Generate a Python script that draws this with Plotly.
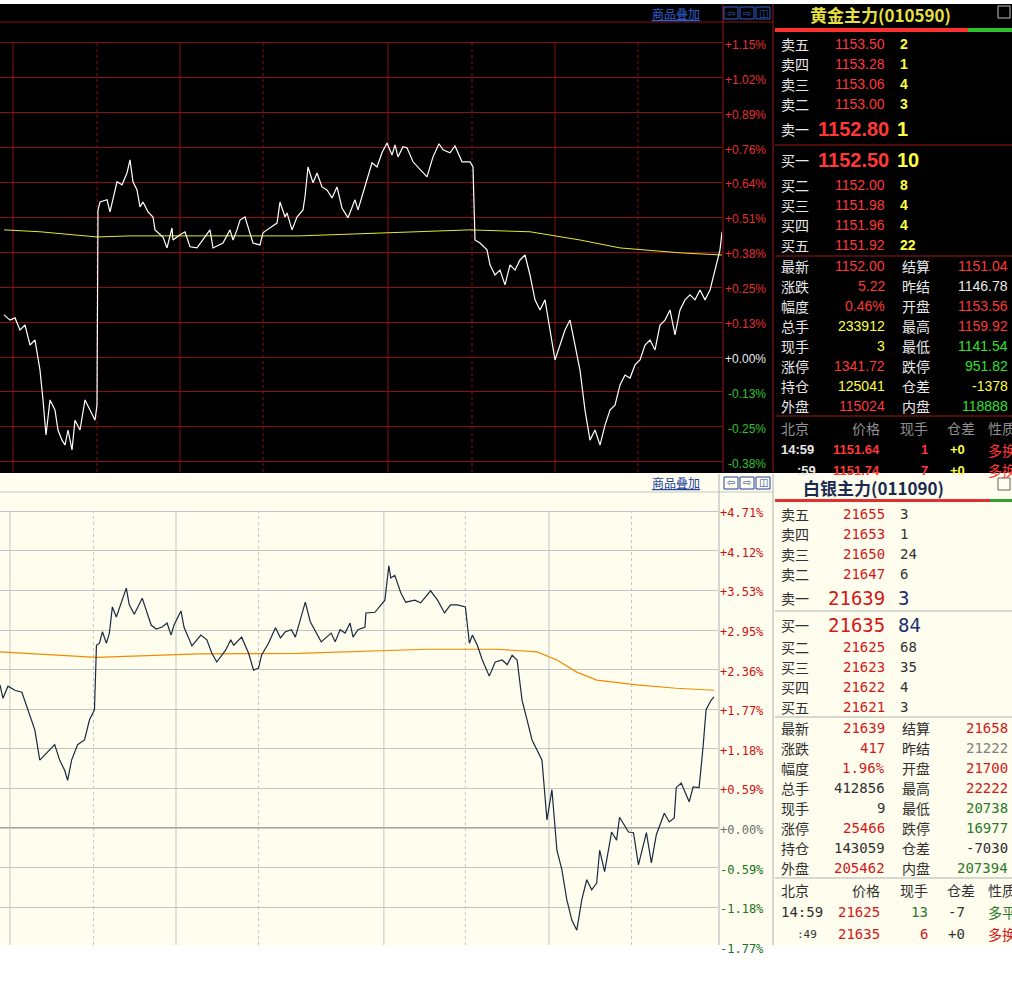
import plotly.graph_objects as go

W, H = 1012, 995

# ---------------- data ----------------
gold_t = [4,10,15,20,25,30,35,40,43,46,50,55,58,62,65,68,72,75,80,85,90,95,97,98,100,107,110,117,122,127,130,133,137,140,143,148,153,155,163,167,172,173,180,185,190,197,210,213,223,230,233,237,240,245,248,253,260,263,267,272,277,280,285,287,292,297,303,305,308,313,317,322,327,332,337,342,348,355,358,363,367,372,377,382,387,392,395,398,403,407,413,427,433,439,443,450,455,462,470,473,475,480,487,490,495,500,505,510,515,520,525,530,535,540,545,550,555,560,565,570,575,580,585,590,595,600,605,610,615,620,625,630,635,640,645,650,655,660,665,670,675,680,685,690,695,700,705,710,715,720,722]
gold_pct = [0.154,0.135,0.143,0.099,0.117,0.044,0.062,-0.048,-0.157,-0.285,-0.157,-0.194,-0.267,-0.304,-0.322,-0.267,-0.340,-0.231,-0.267,-0.157,-0.194,-0.231,-0.176,0.538,0.567,0.575,0.531,0.641,0.630,0.673,0.721,0.641,0.611,0.549,0.567,0.531,0.512,0.465,0.439,0.399,0.472,0.428,0.447,0.458,0.403,0.399,0.465,0.399,0.417,0.465,0.428,0.465,0.501,0.512,0.476,0.417,0.410,0.454,0.465,0.476,0.490,0.567,0.512,0.527,0.465,0.512,0.538,0.586,0.695,0.637,0.673,0.622,0.611,0.582,0.622,0.545,0.509,0.575,0.538,0.600,0.648,0.710,0.695,0.747,0.783,0.739,0.776,0.732,0.769,0.765,0.714,0.659,0.732,0.780,0.758,0.747,0.772,0.714,0.714,0.695,0.428,0.417,0.392,0.337,0.300,0.318,0.264,0.337,0.318,0.355,0.373,0.300,0.209,0.172,0.209,0.099,-0.011,0.044,0.099,0.135,0.044,-0.048,-0.194,-0.304,-0.267,-0.322,-0.249,-0.194,-0.176,-0.102,-0.066,-0.077,-0.029,-0.011,0.044,0.062,0.026,0.117,0.135,0.172,0.081,0.172,0.209,0.227,0.209,0.245,0.209,0.245,0.318,0.392,0.458]
gold_avg_t = [4,40,97,130,300,390,470,530,580,620,680,722]
gold_avg = [0.465,0.458,0.439,0.443,0.443,0.454,0.465,0.458,0.428,0.399,0.381,0.373]

silver_t = [0,3,8,15,22,27,35,40,45,50,55,60,65,68,72,78,85,90,95,97,100,103,107,110,113,117,127,130,135,143,152,157,163,168,172,175,182,185,193,202,208,213,218,227,232,235,243,250,255,260,263,270,277,282,287,293,297,307,312,323,333,337,342,347,352,355,360,367,368,377,387,391,393,397,403,408,417,423,433,440,447,453,460,468,472,475,480,485,492,498,505,510,515,520,525,530,535,540,545,550,555,560,565,570,575,580,585,590,595,600,603,608,615,620,623,632,637,642,650,655,660,668,673,678,680,685,693,697,703,707,710,715,718]
silver_pct = [2.13,1.93,2.11,2.05,2.02,1.80,1.46,1.01,1.09,1.16,1.24,1.01,0.86,0.71,1.01,1.24,1.31,1.61,1.76,2.72,2.75,2.92,2.75,2.90,3.29,3.14,3.57,3.32,3.18,3.42,3.02,2.96,2.99,3.05,2.87,3.02,3.23,2.99,2.71,2.87,2.80,2.60,2.47,2.65,2.80,2.72,2.84,2.60,2.35,2.38,2.57,2.75,2.98,2.83,2.92,2.95,2.84,3.36,3.07,2.77,2.90,2.77,2.95,2.90,3.05,2.84,2.95,2.99,3.20,3.21,3.39,3.90,3.72,3.76,3.50,3.36,3.39,3.35,3.53,3.39,3.20,3.32,3.32,3.29,2.75,2.87,2.72,2.50,2.26,2.47,2.50,2.43,2.57,2.50,1.90,1.61,1.31,1.16,1.01,0.12,0.57,-0.33,-0.62,-1.07,-1.37,-1.52,-1.07,-0.77,-0.92,-0.82,-0.33,-0.65,-0.06,-0.18,0.16,-0.06,-0.07,-0.55,-0.07,-0.52,-0.10,0.22,0.09,0.15,0.60,0.67,0.39,0.61,0.60,1.21,1.76,1.90,1.95]
silver_avg_t = [0,97,200,300,430,500,540,560,580,600,640,680,718]
silver_avg = [2.62,2.54,2.59,2.60,2.66,2.66,2.62,2.50,2.32,2.20,2.13,2.08,2.05]

gold_ticks = [1.15,1.02,0.89,0.76,0.64,0.51,0.38,0.25,0.13,0.00,-0.13,-0.25,-0.38]
gold_tick_step = 0.1277
silver_ticks = [4.71,4.12,3.53,2.95,2.36,1.77,1.18,0.59,0.00,-0.59,-1.18,-1.77]
silver_tick_step = 0.5893

gold_title = "黄金主力(010590)"
gold_ask = [("卖五","1153.50","2"),("卖四","1153.28","1"),("卖三","1153.06","4"),("卖二","1153.00","3")]
gold_ask1 = ("卖一","1152.80","1")
gold_bid1 = ("买一","1152.50","10")
gold_bid = [("买二","1152.00","8"),("买三","1151.98","4"),("买四","1151.96","4"),("买五","1151.92","22")]
gold_stats = [("最新","1152.00","r","结算","1151.04","r"),("涨跌","5.22","r","昨结","1146.78","w"),
              ("幅度","0.46%","r","开盘","1153.56","r"),("总手","233912","y","最高","1159.92","r"),
              ("现手","3","y","最低","1141.54","g"),("涨停","1341.72","r","跌停","951.82","g"),
              ("持仓","125041","y","仓差","-1378","y"),("外盘","115024","r","内盘","118888","g")]
gold_ticks_tbl = [("14:59","1151.64","1","+0","多换"),(":59","1151.74","7","+0","多换")]

silver_title = "白银主力(011090)"
silver_ask = [("卖五","21655","3"),("卖四","21653","1"),("卖三","21650","24"),("卖二","21647","6")]
silver_ask1 = ("卖一","21639","3")
silver_bid1 = ("买一","21635","84")
silver_bid = [("买二","21625","68"),("买三","21623","35"),("买四","21622","4"),("买五","21621","3")]
silver_stats = [("最新","21639","r","结算","21658","r"),("涨跌","417","r","昨结","21222","k"),
                ("幅度","1.96%","r","开盘","21700","r"),("总手","412856","k","最高","22222","r"),
                ("现手","9","k","最低","20738","g"),("涨停","25466","r","跌停","16977","g"),
                ("持仓","143059","k","仓差","-7030","k"),("外盘","205462","r","内盘","207394","g")]
silver_ticks_tbl = [("14:59","21625","13","-7","多平","g"),(":49","21635","6","+0","多换","r")]

# ---------------- helpers ----------------
def py(p): return 1 - p / H
def px(p): return p / W

fig = go.Figure()
shapes, anns = [], []

def rect(x0, y0, x1, y1, color, layer="below"):
    shapes.append(dict(type="rect", xref="paper", yref="paper", x0=px(x0), x1=px(x1),
                       y0=py(y1), y1=py(y0), fillcolor=color, line=dict(width=0), layer=layer))

def hline(x0, x1, y, color, w=1, layer="above"):
    shapes.append(dict(type="line", xref="paper", yref="paper", x0=px(x0), x1=px(x1),
                       y0=py(y), y1=py(y), line=dict(color=color, width=w), layer=layer))

def vline(x, y0, y1, color, w=1, layer="above"):
    shapes.append(dict(type="line", xref="paper", yref="paper", x0=px(x), x1=px(x),
                       y0=py(y0), y1=py(y1), line=dict(color=color, width=w), layer=layer))

CJK = "Noto Sans CJK SC"
NUM = "Liberation Sans"
MONO = "DejaVu Sans Mono"

def txt(x, y, s, color, size=13, anchor="left", font=CJK, bold=False):
    if bold: s = "<b>" + s + "</b>"
    anns.append(dict(xref="paper", yref="paper", x=px(x), y=py(y), text=s, showarrow=False,
                     xanchor=anchor, yanchor="middle", font=dict(color=color, size=size, family=font)))

rect(0, 4, 1012, 473, "#000000")
rect(0, 474, 1012, 945, "#FEFDEE")

fig.add_trace(go.Scatter(x=gold_avg_t, y=gold_avg, mode="lines", line=dict(color="#e8e830", width=1),
                         xaxis="x", yaxis="y", hoverinfo="skip"))
fig.add_trace(go.Scatter(x=gold_t, y=gold_pct, mode="lines", line=dict(color="#ffffff", width=1.2),
                         xaxis="x", yaxis="y"))
fig.add_trace(go.Scatter(x=silver_avg_t, y=silver_avg, mode="lines", line=dict(color="#f08c00", width=1.2),
                         xaxis="x2", yaxis="y2", hoverinfo="skip"))
fig.add_trace(go.Scatter(x=silver_t, y=silver_pct, mode="lines", line=dict(color="#1a2a40", width=1.2),
                         xaxis="x2", yaxis="y2"))

gtv = [round(gold_tick_step * k, 4) for k in range(-3, 10)]
stv = [round(silver_tick_step * k, 4) for k in range(-3, 9)]

ax_common = dict(showticklabels=False, ticks="", zeroline=False, fixedrange=True)
fig.update_layout(
    width=W, height=H, autosize=False, margin=dict(l=0, r=0, t=0, b=0),
    paper_bgcolor="#ffffff", plot_bgcolor="rgba(0,0,0,0)", showlegend=False,
    xaxis=dict(domain=[0, px(722)], range=[0, 722], showgrid=False, anchor="y", **ax_common),
    yaxis=dict(domain=[py(472), py(22)], range=[-0.4206, 1.2253], tickvals=gtv, showgrid=True,
               gridcolor="#8a1010", gridwidth=1, anchor="x", **ax_common),
    xaxis2=dict(domain=[0, px(718)], range=[0, 722], showgrid=False, anchor="y2", **ax_common),
    yaxis2=dict(domain=[py(945), py(492)], range=[-1.741, 5.0], tickvals=stv, showgrid=True,
                gridcolor="#c4c4c4", gridwidth=1, anchor="x2", **ax_common),
)

for xv, dash in [(13,"solid"),(97,"dot"),(180,"solid"),(263,"dot"),(388,"solid"),(472,"dot"),(555,"solid"),(638,"dot")]:
    shapes.append(dict(type="line", xref="x", yref="y", x0=xv, x1=xv, y0=-0.4206, y1=1.15,
                       line=dict(color="#8a1010", width=1, dash=dash), layer="below"))
for xv, dash in [(10,"solid"),(94,"dot"),(177,"solid"),(260,"dot"),(386,"solid"),(468,"dot"),(552,"solid"),(635,"dot")]:
    shapes.append(dict(type="line", xref="x2", yref="y2", x0=xv, x1=xv, y0=-1.741, y1=4.71,
                       line=dict(color="#c4c4c4", width=1, dash=dash), layer="below"))
shapes.append(dict(type="line", xref="x2", yref="y2", x0=0, x1=722, y0=0, y1=0,
                   line=dict(color="#a8a8a8", width=2), layer="below"))

hline(0, 772, 22, "#8a1010")
vline(723, 4, 472, "#a01818")
vline(773, 4, 472, "#a01818")
hline(0, 772, 492, "#c4c4c4")
vline(719, 474, 945, "#b0b0b0")
vline(773, 474, 945, "#b0b0b0")

for k, v in enumerate(gold_ticks):
    val = gold_tick_step * (9 - k)
    yy = 357 - val * 273.4 + 2
    col = "#e03030" if v > 0 else ("#e8e8e8" if v == 0 else "#30c030")
    lab = ("+" if v >= 0 else "") + f"{v:.2f}%"
    txt(768, yy, lab, col, 12, "right", NUM)
for k, v in enumerate(silver_ticks):
    val = silver_tick_step * (8 - k)
    yy = 828 - val / 0.01488 + 2
    col = "#d01010" if v > 0 else ("#707070" if v == 0 else "#207020")
    lab = ("+" if v >= 0 else "") + f"{v:.2f}%"
    txt(766, yy, lab, col, 12, "right", MONO)

for y0, col in [(13, "#3060d0"), (483, "#2040a0")]:
    txt(702, y0, "<u>商品叠加</u>", col, 12, "right")
    for bx in [724, 740, 756]:
        rect(bx, y0 - 6, bx + 14, y0 + 6, "rgba(0,0,0,0)", "above")
        shapes[-1]["line"] = dict(color=col, width=1)
    txt(731, y0, "⇦", col, 10, "center", "DejaVu Sans")
    txt(747, y0, "⇨", col, 10, "center", "DejaVu Sans")
    txt(763, y0, "◫", col, 10, "center", "DejaVu Sans")

RED, YEL, GRN, WHT = "#ff3838", "#ffff40", "#30e030", "#e8e8e8"
cmap = {"r": RED, "y": YEL, "g": GRN, "w": WHT}
txt(880, 15, gold_title, "#e8e040", 17, "center", CJK, True)
rect(998, 6, 1010, 18, "rgba(0,0,0,0)", "above"); shapes[-1]["line"] = dict(color="#c0c0c0", width=1)
rect(775, 28, 968, 32, "#ff3030", "above")
rect(968, 28, 1012, 32, "#30c030", "above")
for i, (a, b, c) in enumerate(gold_ask):
    y = 44 + 20 * i
    txt(779, y, a, WHT, 14); txt(887, y, b, RED, 14, "right", NUM); txt(898, y, c, YEL, 14, "left", NUM, True)
for y, (a, b, c) in [(129, gold_ask1), (160, gold_bid1)]:
    txt(779, y, a, WHT, 14); txt(891, y, b, RED, 20, "right", NUM, True); txt(895, y, c, YEL, 20, "left", NUM, True)
hline(775, 1012, 145, "#a01818")
for i, (a, b, c) in enumerate(gold_bid):
    y = 185 + 20 * i
    txt(779, y, a, WHT, 14); txt(887, y, b, RED, 14, "right", NUM); txt(898, y, c, YEL, 14, "left", NUM, True)
hline(775, 1012, 256, "#a01818")
for i, (a, b, bc, c, d, dc) in enumerate(gold_stats):
    y = 266 + 20 * i
    txt(779, y, a, WHT, 14); txt(887, y, b, cmap[bc], 14, "right", NUM)
    txt(900, y, c, WHT, 14); txt(1010, y, d, cmap[dc], 14, "right", NUM)
hline(775, 1012, 416, "#a01818")
y = 428
txt(779, y, "北京", "#909090", 14); txt(882, y, "价格", "#909090", 14, "right")
txt(930, y, "现手", "#909090", 14, "right"); txt(977, y, "仓差", "#909090", 14, "right"); txt(986, y, "性质", "#909090", 14)
for i, (t, p, v, dv, n) in enumerate(gold_ticks_tbl):
    y = 450 + 20 * i
    txt(779 if i == 0 else 795, y, t, WHT, 13, "left", NUM, True); txt(882, y, p, RED, 13, "right", NUM, True)
    txt(930, y, v, RED, 13, "right", NUM, True); txt(967, y, dv, YEL, 13, "right", NUM, True); txt(986, y, n, RED, 14)
rect(0, 473, 1012, 474, "#ffffff", "above")

SR, SG, SK = "#d01818", "#2a7a2a", "#303030"
smap = {"r": SR, "g": SG, "k": SK}
txt(873, 487, silver_title, "#1a2a50", 17, "center", CJK, True)
rect(998, 478, 1010, 490, "rgba(0,0,0,0)", "above"); shapes[-1]["line"] = dict(color="#606060", width=1)
rect(775, 499, 990, 502, "#e03030", "above")
rect(990, 499, 1012, 502, "#30a030", "above")
for i, (a, b, c) in enumerate(silver_ask):
    y = 514 + 20 * i
    txt(779, y, a, SK, 14); txt(887, y, b, SR, 14, "right", MONO); txt(898, y, c, SK, 14, "left", MONO)
for y, (a, b, c) in [(598, silver_ask1), (625, silver_bid1)]:
    txt(779, y, a, SK, 14); txt(887, y, b, SR, 19, "right", MONO); txt(896, y, c, "#203070", 19, "left", MONO)
hline(775, 1012, 611, "#b0b0b0")
for i, (a, b, c) in enumerate(silver_bid):
    y = 647 + 20 * i
    txt(779, y, a, SK, 14); txt(887, y, b, SR, 14, "right", MONO); txt(898, y, c, SK, 14, "left", MONO)
hline(775, 1012, 717, "#b0b0b0")
for i, (a, b, bc, c, d, dc) in enumerate(silver_stats):
    y = 728 + 20 * i
    txt(779, y, a, SK, 14); txt(887, y, b, smap[bc], 14, "right", MONO)
    txt(900, y, c, SK, 14); txt(1010, y, d, "#808080" if c == "昨结" else smap[dc], 14, "right", MONO)
hline(775, 1012, 878, "#b0b0b0")
y = 890
txt(779, y, "北京", SK, 14); txt(882, y, "价格", SK, 14, "right")
txt(930, y, "现手", SK, 14, "right"); txt(977, y, "仓差", SK, 14, "right"); txt(986, y, "性质", SK, 14)
for i, (t, p, v, dv, n, nc) in enumerate(silver_ticks_tbl):
    y = 912 + 22 * i
    txt(779 if i == 0 else 795, y, t, SK, 14 if i == 0 else 11, "left", MONO)
    txt(882, y, p, SR, 14, "right", MONO)
    txt(930, y, v, smap[nc], 14, "right", MONO); txt(967, y, dv, SK, 14, "right", MONO)
    txt(986, y, n, smap[nc], 14)
rect(0, 945, 1012, 995, "#ffffff", "above")

fig.update_layout(shapes=shapes, annotations=anns)
fig.write_html("out.html", config={"displayModeBar": False},
               post_script="document.body.style.margin='0';document.body.style.overflow='hidden';")
